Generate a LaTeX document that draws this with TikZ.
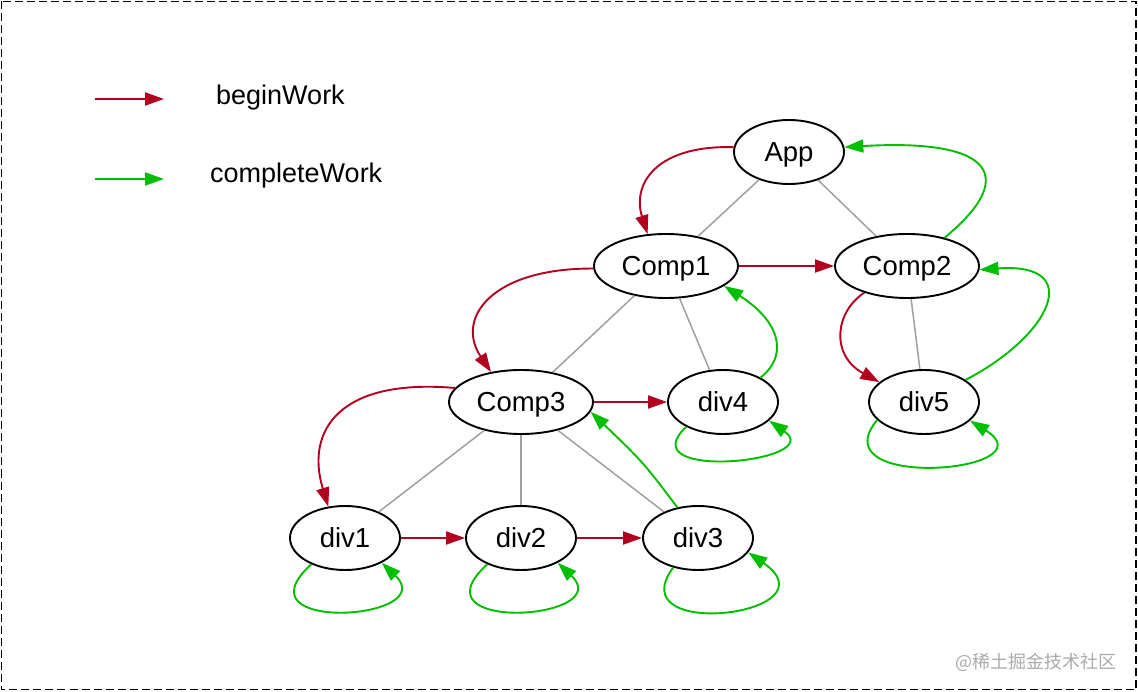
\documentclass[tikz,border=0pt]{standalone}
\usepackage{fontspec}
\setmainfont{Liberation Sans}
\newfontfamily\cjk{Noto Sans CJK SC}
\usetikzlibrary{arrows.meta,shapes.geometric}
\definecolor{bred}{RGB}{178,0,30}
\definecolor{cgreen}{RGB}{0,190,0}
\definecolor{tgray}{RGB}{160,160,160}
\definecolor{wmgray}{RGB}{170,170,170}
\tikzset{
  fibnode/.style={draw=black, line width=1.9pt, ellipse, inner sep=0pt,
    minimum height=64pt, font=\fontsize{27.5}{27.5}\selectfont, text height=19.6pt, text depth=0pt},
  wide/.style={fibnode, minimum width=144pt},
  narrow/.style={fibnode, minimum width=110pt},
  tree/.style={draw=tgray, line width=1.5pt},
  beginarrow/.style={draw=bred, line width=1.9pt, -{Triangle[length=19pt,width=13pt]}},
  completearrow/.style={draw=cgreen, line width=1.9pt, -{Triangle[length=19pt,width=13pt]}},
  legendtext/.style={anchor=base west, inner sep=0pt, font=\fontsize{27}{27}\selectfont},
}
\begin{document}
\begin{tikzpicture}[x=1pt, y=-1pt]
\useasboundingbox (0,0) rectangle (1138,692);
\draw[line width=1.7pt, dash pattern=on 8pt off 4pt] (1.5,1.5) rectangle (1136,689.5);

% legend
\coordinate (l1a) at (95,99);
\coordinate (l1b) at (164,99);
\coordinate (l2a) at (95,179);
\coordinate (l2b) at (164,179);
\draw[beginarrow] (l1a) -- (l1b);
\draw[completearrow] (l2a) -- (l2b);
\node[legendtext] (lt1) at (216,104.5) {beginWork};
\node[legendtext] (lt2) at (210,183) {completeWork};

% nodes
\node[narrow] (app) at (789,152) {App};
\node[wide] (comp1) at (666,266) {Comp1};
\node[wide] (comp2) at (907,266) {Comp2};
\node[wide] (comp3) at (521,402) {Comp3};
\node[narrow] (div4) at (723,402) {div4};
\node[narrow] (div5) at (924,402) {div5};
\node[narrow] (div1) at (345,538) {div1};
\node[narrow] (div2) at (521,538) {div2};
\node[narrow] (div3) at (698,538) {div3};

% tree edges
\draw[tree] (app) -- (comp1);
\draw[tree] (app) -- (comp2);
\draw[tree] (comp1) -- (comp3);
\draw[tree] (comp1) -- (div4);
\draw[tree] (comp2) -- (div5);
\draw[tree] (comp3) -- (div1);
\draw[tree] (comp3) -- (div2);
\draw[tree] (comp3) -- (div3);

% beginWork
\draw[beginarrow] (app.175) .. controls (655,145) and (632,185) .. (comp1.120);
\draw[beginarrow] (comp1) -- (comp2);
\draw[beginarrow] (comp1.182) .. controls (492,268) and (455,318) .. (comp3.135);
\draw[beginarrow] (comp3) -- (div4);
\draw[beginarrow] (comp3.168) .. controls (340,378) and (305,430) .. (div1.118);
\draw[beginarrow] (div1) -- (div2);
\draw[beginarrow] (div2) -- (div3);
\draw[beginarrow] (comp2.212) .. controls (835,312) and (830,355) .. (div5.156);

% completeWork
\draw[completearrow] (div1.218) .. controls (234,634) and (442,620) .. (div1.-34);
\draw[completearrow] (div2.218) .. controls (410,634) and (618,620) .. (div2.-34);
\draw[completearrow] (div3.230) .. controls (618,642) and (838,615) .. (div3.-16);
\draw[completearrow] (div4.214) .. controls (628,482) and (828,462) .. (div4.-22);
\draw[completearrow] (div5.201) .. controls (818,492) and (1052,472) .. (div5.-22);
\draw[completearrow] (div3.124) .. controls (643,462) .. (comp3.-8);
\draw[completearrow] (div4.33) .. controls (792,352) and (775,318) .. (comp1.-19);
\draw[completearrow] (div5.28) .. controls (1052,335) and (1085,262) .. (comp2.-3);
\draw[completearrow] (comp2.37) .. controls (1015,180) and (1000,138) .. (app.5);

% watermark
\node[anchor=east, inner sep=0pt, text=wmgray, font=\cjk\fontsize{18}{18}\selectfont] (wm) at (1117,662) {@稀土掘金技术社区};
\end{tikzpicture}
\end{document}
